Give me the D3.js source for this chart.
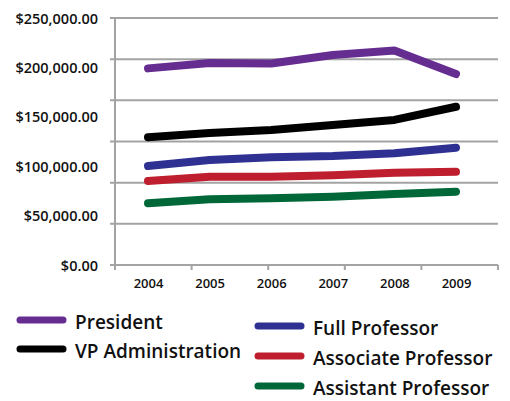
<!DOCTYPE html>
<meta charset="utf-8">
<style>
body { margin: 0; background: #fff; }
text { font-family: "Open Sans", sans-serif; font-weight: 600; fill: #111; }
</style>
<body>
<script src="https://d3js.org/d3.v7.min.js"></script>
<script>
var width = 510
var height = 401

var years = ['2004', '2005', '2006', '2007', '2008', '2009']
var yTicks = [0, 50000, 100000, 150000, 200000, 250000]

var president = [199000, 204500, 204000, 212500, 217000, 193300]
var vpAdmin = [129300, 133600, 136600, 141700, 146800, 160200]
var fullProf = [100200, 106300, 109000, 110300, 113000, 118700]
var assocProf = [85000, 89400, 89400, 90800, 93400, 94400]
var asstProf = [62400, 66500, 67500, 69100, 71900, 74200]

var seriesNames = ['President', 'VP Administration', 'Full Professor', 'Associate Professor', 'Assistant Professor']
var seriesColors = ['#662d91', '#000000', '#2e3192', '#be1e2d', '#006838']
var seriesValues = [president, vpAdmin, fullProf, assocProf, asstProf]

var series = seriesNames.map(function (name, i) {
    return { name: name, color: seriesColors[i], values: seriesValues[i] }
})

var plotLeft = 115, plotRight = 498, plotTop = 18, plotBottom = 265

var svg = d3.select('body').append('svg')
    .attr('width', width)
    .attr('height', height)

var x = d3.scalePoint().domain(years).range([148, 456])
var xTick = d3.scaleLinear().domain([0, 5]).range([plotLeft, plotRight])
var y = d3.scaleLinear().domain([0, 250000]).range([plotBottom, plotTop])
var grid = d3.scaleLinear().domain([0, 6]).range([plotBottom, plotTop])

// gridlines (excel put 6 divisions, labels on 5)
svg.append('g')
    .selectAll('line')
    .data(d3.range(1, 7))
    .enter().append('line')
    .attr('x1', plotLeft - 5)
    .attr('x2', plotRight)
    .attr('y1', function (d) { return grid(d) })
    .attr('y2', function (d) { return grid(d) })
    .style('stroke', '#a3a3a3')
    .style('stroke-width', 2)

// axis lines
svg.append('line')
    .attr('x1', plotLeft).attr('x2', plotLeft)
    .attr('y1', plotTop - 1).attr('y2', plotBottom + 5)
    .style('stroke', '#a3a3a3').style('stroke-width', 2)
svg.append('line')
    .attr('x1', plotLeft - 5).attr('x2', plotRight)
    .attr('y1', plotBottom).attr('y2', plotBottom)
    .style('stroke', '#a3a3a3').style('stroke-width', 2)

svg.append('g')
    .selectAll('line')
    .data(d3.range(0, 6))
    .enter().append('line')
    .attr('x1', function (d) { return xTick(d) })
    .attr('x2', function (d) { return xTick(d) })
    .attr('y1', plotBottom)
    .attr('y2', plotBottom + 5)
    .style('stroke', '#a3a3a3')
    .style('stroke-width', 2)

var yAxis = svg.append('g')
    .attr('transform', 'translate(98,0)')
    .call(d3.axisLeft(y).tickValues(yTicks).tickSize(0).tickPadding(0)
        .tickFormat(d3.format('$,.2f')))
yAxis.select('.domain').remove()
yAxis.selectAll('text').style('font-size', '14.5px').attr('dy', '0.35em')

var xAxis = svg.append('g')
    .attr('transform', 'translate(0,' + (plotBottom + 14) + ')')
    .call(d3.axisBottom(x).tickSize(0).tickPadding(0))
xAxis.select('.domain').remove()
xAxis.selectAll('text').style('font-size', '13px')

var line = d3.line()
    .x(function (d, i) { return x(years[i]) })
    .y(function (d) { return y(d) })

svg.append('g')
    .selectAll('path')
    .data(series)
    .enter().append('path')
    .attr('d', function (d) { return line(d.values) })
    .style('fill', 'none')
    .style('stroke', function (d) { return d.color })
    .style('stroke-width', 8)
    .style('stroke-linecap', 'round')
    .style('stroke-linejoin', 'round')

// legend, two columns
var legendPos = [[20, 320], [20, 349], [258, 326], [258, 356], [258, 386]]

var legend = svg.append('g')
    .selectAll('g')
    .data(series)
    .enter().append('g')
    .attr('transform', function (d, i) { return 'translate(' + legendPos[i] + ')' })

legend.append('line')
    .attr('x1', 0)
    .attr('x2', 43)
    .style('stroke', function (d) { return d.color })
    .style('stroke-width', 7)
    .style('stroke-linecap', 'round')

legend.append('text')
    .attr('x', 55)
    .attr('y', 2.5)
    .attr('dy', '0.35em')
    .style('font-size', '19px')
    .text(function (d) { return d.name })
</script>
</body>
